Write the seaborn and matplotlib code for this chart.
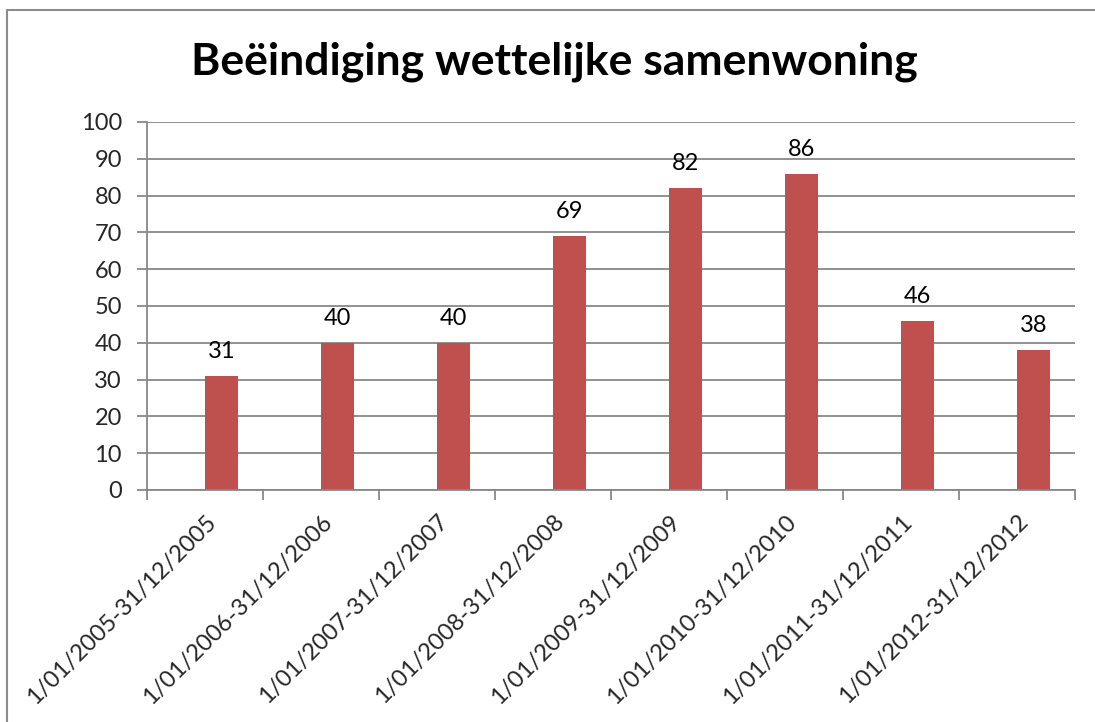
import matplotlib
matplotlib.use("Agg")
import matplotlib.pyplot as plt
import seaborn as sns
import pandas as pd
from matplotlib.patches import Rectangle

periods = [
    "1/01/2005-31/12/2005",
    "1/01/2006-31/12/2006",
    "1/01/2007-31/12/2007",
    "1/01/2008-31/12/2008",
    "1/01/2009-31/12/2009",
    "1/01/2010-31/12/2010",
    "1/01/2011-31/12/2011",
    "1/01/2012-31/12/2012",
]
counts = [31, 40, 40, 69, 82, 86, 46, 38]
y_ticks = [0, 10, 20, 30, 40, 50, 60, 70, 80, 90, 100]
title = "Beëindiging wettelijke samenwoning"

sns.set_theme(style="white")
plt.rcParams["font.family"] = ["Lato", "DejaVu Sans"]

bar_color = "#C0504D"
grid_color = "#888888"

df = pd.DataFrame({"periode": periods, "aantal": counts, "reeks": "Reeks2"})

fig = plt.figure(figsize=(10.95, 7.22), dpi=100)
ax = fig.add_axes([147 / 1095, 1 - 490 / 722, 928 / 1095, 368 / 722])

# two-slot clusters, only the second series carries data
sns.barplot(data=df, x="periode", y="aantal", hue="reeks",
            hue_order=["Reeks1", "Reeks2"], palette=[bar_color, bar_color],
            width=0.57, dodge=True, legend=False, saturation=1,
            linewidth=0, ax=ax)

ax.set_xlim(-0.5, len(periods) - 0.5)
ax.set_ylim(0, 100)
ax.set_yticks(y_ticks)
ax.set_axisbelow(True)
ax.yaxis.grid(True, color=grid_color, linewidth=1.3)
ax.xaxis.grid(False)

for side in ["top", "right"]:
    ax.spines[side].set_visible(False)
for side in ["left", "bottom"]:
    ax.spines[side].set_color(grid_color)
    ax.spines[side].set_linewidth(1.3)

ax.set_xlabel("")
ax.set_ylabel("")
ax.tick_params(axis="y", length=7, width=1.3, color=grid_color, labelsize=17, pad=11,
               left=True)
ax.set_xticks(range(len(periods)))
ax.set_xticklabels(periods, rotation=45, ha="right", rotation_mode="anchor",
                   fontsize=17)
ax.tick_params(axis="x", length=0, pad=15)
# category boundary ticks on the x axis
ax.set_xticks([i - 0.5 for i in range(len(periods) + 1)], minor=True)
ax.tick_params(axis="x", which="minor", length=7, width=1.3, color=grid_color,
               bottom=True)

for container in ax.containers:
    if len(container) and container.datavalues.size:
        ax.bar_label(container, labels=[f"{v:g}" for v in container.datavalues],
                     padding=10, fontsize=17, color="black")

fig.text(554 / 1095, 1 - 75 / 722, title, ha="center", va="baseline",
         fontsize=32, fontweight="bold", color="black")

fig.patches.append(Rectangle((7 / 1095, -0.1), 1.2, 1 - 10 / 722 + 0.1,
                             transform=fig.transFigure, fill=False,
                             edgecolor="#8c8c8c", linewidth=1.5))

fig.savefig("out.png", dpi=100)
